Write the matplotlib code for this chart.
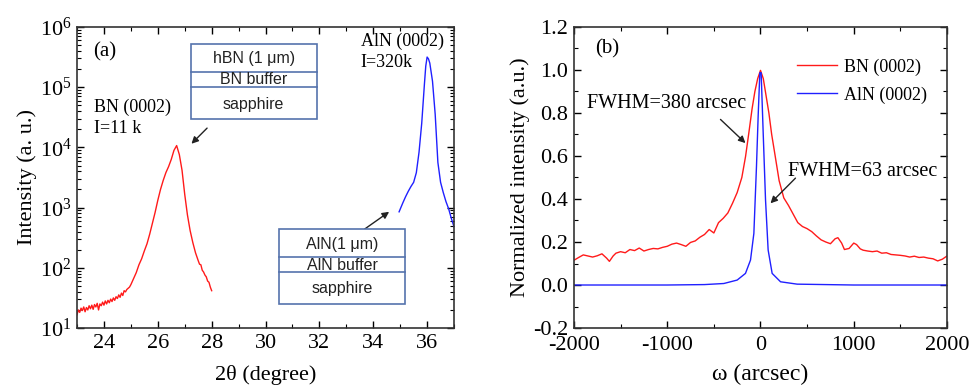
import numpy as np
import matplotlib
matplotlib.use('Agg')
import matplotlib.pyplot as plt
from matplotlib.patches import Rectangle
from matplotlib.lines import Line2D
from matplotlib.ticker import MultipleLocator, LogLocator, NullFormatter

plt.rcParams['font.family'] = ['Liberation Serif', 'DejaVu Serif']
plt.rcParams['mathtext.fontset'] = 'custom'
plt.rcParams['mathtext.rm'] = 'Liberation Serif'
plt.rcParams['mathtext.it'] = 'Liberation Serif:italic'
plt.rcParams['axes.unicode_minus'] = False
plt.rcParams['xtick.direction'] = 'in'
plt.rcParams['ytick.direction'] = 'in'
plt.rcParams['xtick.top'] = True
plt.rcParams['ytick.right'] = True

# ---------------- data: (a) 2theta-omega scan ----------------
bn_2theta = [23.00, 23.05, 23.10, 23.15, 23.20, 23.25, 23.30, 23.35, 23.40, 23.45,
             23.50, 23.55, 23.60, 23.65, 23.70, 23.75, 23.80, 23.85, 23.90, 23.95,
             24.00, 24.05, 24.10, 24.15, 24.20, 24.25, 24.30, 24.35, 24.40, 24.45,
             24.50, 24.55, 24.60, 24.65, 24.70, 24.75, 24.80, 24.85, 24.90, 24.95,
             25.0, 25.1, 25.2, 25.3, 25.4, 25.5, 25.6, 25.7, 25.8, 25.9,
             26.0, 26.1, 26.2, 26.3, 26.4, 26.5, 26.6, 26.7, 26.8, 26.9,
             27.0, 27.1, 27.2, 27.3, 27.4,
             27.50, 27.55, 27.60, 27.65, 27.70, 27.75, 27.80, 27.85, 27.90, 27.95, 28.00]
bn_log_int = [1.22, 1.30, 1.26, 1.33, 1.29, 1.35, 1.27, 1.34, 1.30, 1.37,
              1.32, 1.38, 1.31, 1.39, 1.35, 1.41, 1.30, 1.40, 1.37, 1.43,
              1.38, 1.45, 1.40, 1.46, 1.42, 1.48, 1.44, 1.50, 1.46, 1.52,
              1.49, 1.55, 1.51, 1.58, 1.54, 1.62, 1.60, 1.64, 1.66, 1.68,
              1.72, 1.82, 1.92, 2.05, 2.15, 2.28, 2.40, 2.56, 2.74, 2.92,
              3.12, 3.30, 3.45, 3.58, 3.68, 3.80, 3.95, 4.03, 3.88, 3.62,
              3.22, 2.88, 2.62, 2.42, 2.25,
              2.12, 2.06, 2.05, 1.96, 1.93, 1.88, 1.85, 1.78, 1.76, 1.68, 1.62]

aln_2theta = [34.96, 35.1, 35.2, 35.3, 35.4, 35.5, 35.6, 35.7, 35.8, 35.9,
              35.95, 36.0, 36.05, 36.1, 36.2, 36.3, 36.4, 36.5, 36.6, 36.7,
              36.8, 36.9, 37.0]
aln_log_int = [2.93, 3.08, 3.18, 3.27, 3.35, 3.42, 3.58, 3.92, 4.40, 5.05,
               5.35, 5.50, 5.47, 5.40, 5.10, 4.55, 3.75, 3.42, 3.25, 3.10,
               2.98, 2.82, 2.68]

# ---------------- data: (b) rocking curves ----------------
bn_omega = [-2000, -1950, -1900, -1850, -1800, -1750, -1700, -1650, -1620, -1580,
            -1550, -1500, -1450, -1400, -1350, -1300, -1250, -1200, -1150, -1100,
            -1050, -1000, -950, -900, -850, -800, -750, -700, -650, -600,
            -550, -500, -450, -400, -350, -300, -250, -200, -160, -125,
            -90, -60, -30, 0, 30, 60, 90, 120, 150, 200,
            250, 300, 350, 400, 450, 500, 550, 600, 650, 700,
            750, 800, 830, 870, 900, 950, 1000, 1030, 1070, 1100,
            1150, 1200, 1250, 1300, 1350, 1400, 1450, 1500, 1550, 1600,
            1650, 1700, 1750, 1800, 1850, 1900, 1950, 2000]
bn_norm = [0.115, 0.128, 0.140, 0.135, 0.130, 0.136, 0.145, 0.125, 0.110, 0.135,
           0.148, 0.155, 0.150, 0.165, 0.160, 0.172, 0.158, 0.165, 0.170, 0.168,
           0.175, 0.180, 0.190, 0.195, 0.188, 0.180, 0.198, 0.205, 0.222, 0.235,
           0.258, 0.242, 0.290, 0.310, 0.335, 0.380, 0.430, 0.500, 0.598, 0.707,
           0.820, 0.900, 0.960, 0.998, 0.960, 0.880, 0.800, 0.700, 0.620, 0.485,
           0.405, 0.370, 0.330, 0.290, 0.272, 0.262, 0.248, 0.228, 0.210, 0.200,
           0.192, 0.215, 0.220, 0.195, 0.165, 0.170, 0.195, 0.188, 0.168, 0.162,
           0.158, 0.155, 0.158, 0.148, 0.150, 0.142, 0.140, 0.138, 0.135, 0.130,
           0.134, 0.128, 0.130, 0.125, 0.122, 0.112, 0.120, 0.135]

aln_omega = [-2000, -1000, -600, -393, -250, -161, -107, -71, -43, -25,
             -7, 7, 29, 54, 82, 125, 215, 393, 1000, 2000]
aln_norm = [0.0, 0.0, 0.002, 0.007, 0.023, 0.054, 0.116, 0.240, 0.551, 0.785,
            0.987, 0.987, 0.707, 0.396, 0.163, 0.054, 0.015, 0.004, 0.0, 0.0]

FS_TICK = 16
FS_LABEL = 16
FS_NOTE_A = 13
FS_NOTE_B = 14.5
BOX_COLOR = '#5573ad'

fig = plt.figure(figsize=(9.71, 3.85), dpi=100)
ax1 = fig.add_axes([0.0793, 0.148, 0.3883, 0.782])
ax2 = fig.add_axes([0.5911, 0.148, 0.3842, 0.782])

# ============ (a) ============
ax1.plot(bn_2theta, 10 ** np.array(bn_log_int), color='#ff1a1a', lw=1.0)
ax1.plot(aln_2theta, 10 ** np.array(aln_log_int), color='#2020ff', lw=1.0)
ax1.set_yscale('log')
ax1.set_xlim(23, 37)
ax1.set_ylim(10, 1e6)
ax1.xaxis.set_major_locator(MultipleLocator(2))
ax1.xaxis.set_minor_locator(MultipleLocator(1))
ax1.yaxis.set_major_locator(LogLocator(base=10, numticks=10))
ax1.yaxis.set_minor_locator(LogLocator(base=10, subs=np.arange(2, 10), numticks=20))
ax1.yaxis.set_minor_formatter(NullFormatter())
ax1.set_xlabel('2θ (degree)', fontsize=FS_LABEL, labelpad=9)
ax1.set_ylabel('Intensity (a. u.)', fontsize=FS_LABEL, labelpad=2)

ax1.text(23.6, 10 ** 5.59, '(a)', fontsize=15, va='center', ha='left')
ax1.text(23.64, 10 ** 4.67, 'BN (0002)', fontsize=FS_NOTE_A, va='center', ha='left')
ax1.text(23.64, 10 ** 4.32, 'I=11 k', fontsize=FS_NOTE_A, va='center', ha='left')
ax1.text(33.54, 10 ** 5.76, 'AlN (0002)', fontsize=FS_NOTE_A, va='center', ha='left')
ax1.text(33.54, 10 ** 5.41, 'I=320k', fontsize=FS_NOTE_A, va='center', ha='left')

ax1.annotate('', xy=(27.25, 10 ** 4.06), xytext=(27.83, 10 ** 4.32),
             arrowprops=dict(arrowstyle='-|>', color='#222222', lw=1.0,
                             mutation_scale=10, shrinkA=0, shrinkB=0))
ax1.annotate('', xy=(34.59, 10 ** 2.93), xytext=(33.67, 10 ** 2.64),
             arrowprops=dict(arrowstyle='-|>', color='#222222', lw=1.0,
                             mutation_scale=10, shrinkA=0, shrinkB=0))


def layer_box(ax, x0, x1, y0, y1, lines_y, labels, labels_y):
    ax.add_patch(Rectangle((x0, y0), x1 - x0, y1 - y0, transform=ax.transAxes,
                           fill=True, facecolor='white', edgecolor=BOX_COLOR,
                           lw=1.2, zorder=5))
    for ly in lines_y:
        ax.add_line(Line2D([x0, x1], [ly, ly], transform=ax.transAxes,
                           color=BOX_COLOR, lw=1.2, zorder=6))
    xc = (x0 + x1) / 2
    for lab, yy in zip(labels, labels_y):
        ax.text(xc, yy, lab, transform=ax.transAxes, ha='center', va='center',
                fontsize=11.5, family='Liberation Sans', color='#222222', zorder=7)


layer_box(ax1, 0.3016, 0.636, 0.6934, 0.9435, [0.8505, 0.7997],
          ['hBN (1 μm)', 'BN buffer', 'sapphire'], [0.896, 0.826, 0.744])
layer_box(ax1, 0.5366, 0.870, 0.0787, 0.328, [0.2349, 0.185],
          ['AlN(1 μm)', 'AlN buffer', 'sapphire'], [0.278, 0.209, 0.131])

# ============ (b) ============
ax2.plot(bn_omega, bn_norm, color='#ff1a1a', lw=1.0, label='BN (0002)')
ax2.plot(aln_omega, aln_norm, color='#2020ff', lw=1.0, label='AlN (0002)')
ax2.set_xlim(-2000, 2000)
ax2.set_ylim(-0.2, 1.2)
ax2.xaxis.set_major_locator(MultipleLocator(1000))
ax2.xaxis.set_minor_locator(MultipleLocator(500))
ax2.yaxis.set_major_locator(MultipleLocator(0.2))
ax2.yaxis.set_minor_locator(MultipleLocator(0.1))
ax2.yaxis.set_major_formatter(plt.FuncFormatter(lambda v, p: f'{v:.1f}'))
ax2.set_xlabel('ω (arcsec)', fontsize=17, labelpad=6)
ax2.set_ylabel('Normalized intensity (a.u.)', fontsize=FS_LABEL, labelpad=2)

ax2.text(-1775, 1.096, '(b)', fontsize=15, va='center', ha='left')
ax2.text(-1865, 0.844, 'FWHM=380 arcsec', fontsize=FS_NOTE_B, va='center', ha='left')
ax2.text(300, 0.528, 'FWHM=63 arcsec', fontsize=FS_NOTE_B, va='center', ha='left')
ax2.annotate('', xy=(-161, 0.66), xytext=(-429, 0.77),
             arrowprops=dict(arrowstyle='-|>', color='#222222', lw=1.0,
                             mutation_scale=10, shrinkA=0, shrinkB=0))
ax2.annotate('', xy=(107, 0.38), xytext=(375, 0.497),
             arrowprops=dict(arrowstyle='-|>', color='#222222', lw=1.0,
                             mutation_scale=10, shrinkA=0, shrinkB=0))
ax2.legend(loc='upper right', bbox_to_anchor=(0.99, 0.95), frameon=False,
           fontsize=13, handlelength=2.2, labelspacing=0.6, handletextpad=0.4)

for ax in (ax1, ax2):
    ax.tick_params(which='major', length=5, width=1, labelsize=FS_TICK, pad=4)
    ax.tick_params(which='minor', length=3, width=0.8)
    for sp in ax.spines.values():
        sp.set_linewidth(1.2)
        sp.set_color('#333333')
ax2.tick_params(axis='x', which='major', pad=6)

fig.savefig('out.png', dpi=100, facecolor='white')
